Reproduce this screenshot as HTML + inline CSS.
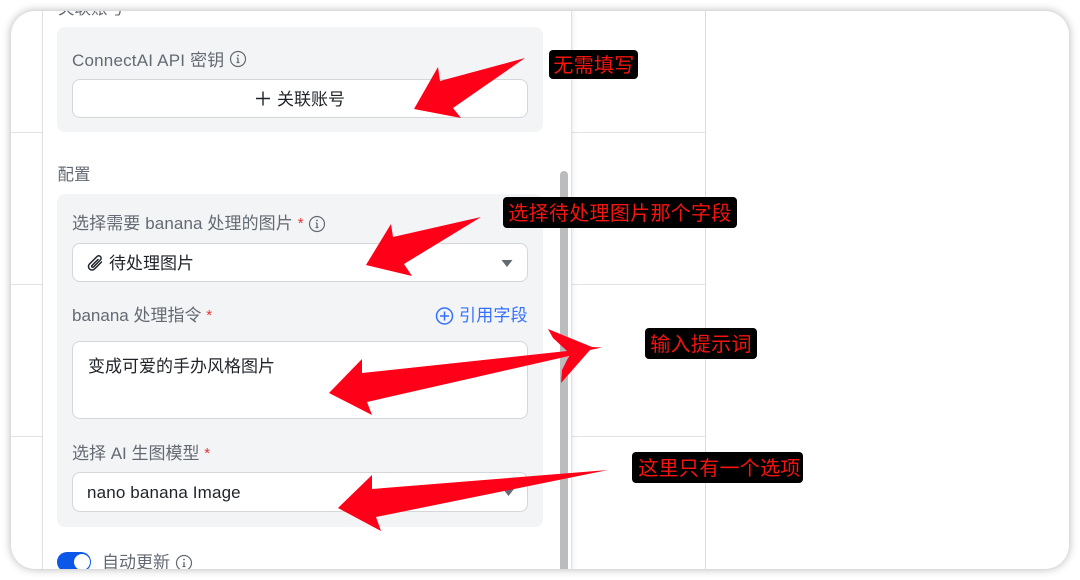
<!DOCTYPE html>
<html lang="zh">
<head>
<meta charset="utf-8">
<style>
html,body{margin:0;padding:0;width:1080px;height:580px;background:#fff;overflow:hidden}
body{font-family:"Liberation Sans","Noto Sans CJK SC",sans-serif;position:relative}
#card{position:absolute;left:11px;top:11px;width:1058px;height:558px;border-radius:24px;background:#fff;overflow:hidden;box-shadow:0 0 9px rgba(0,0,0,.3)}
.abs{position:absolute}
.t{position:absolute;white-space:nowrap;font-size:17px;line-height:22px;z-index:1}
.g{color:#646a73}
.d{color:#1f2329}
.h{position:absolute;height:1px;background:#e2e3e7}
.gray{position:absolute;background:#f3f4f6;border-radius:8px}
.inp{position:absolute;background:#fff;border:1.5px solid #d4d6da;border-radius:8px;box-sizing:border-box}
.r{color:#e8322d;font-size:15px;position:relative;top:-1px}
.lab{position:absolute;background:#000;color:#f5140f;border-radius:4px;font-size:20px;letter-spacing:.3px;line-height:30px;text-align:center;white-space:nowrap;font-family:"Noto Sans CJK SC",sans-serif;font-weight:400;z-index:3}
svg{position:absolute;left:0;top:0}
</style>
</head>
<body>
<div id="card">
  <div class="h" style="left:0;top:121px;width:694px"></div>
  <div class="h" style="left:0;top:273px;width:694px"></div>
  <div class="h" style="left:0;top:425px;width:694px"></div>
  <div class="abs" style="left:694px;top:0;width:1px;height:558px;background:#dcdde1"></div>
  <div class="abs" style="left:31px;top:-2px;width:530px;height:562px;background:#fff;border-left:1px solid #dfe0e4;border-right:1px solid #dfe0e4;box-sizing:border-box;box-shadow:2px 0 5px rgba(0,0,0,.06)"></div>
</div>

<div class="abs" style="left:11px;top:11px;width:1058px;height:558px;border-radius:24px;overflow:hidden">
  <div class="t g" style="left:47px;top:-13px;font-size:16.500px">关联账号</div>
  <div class="abs" style="left:549px;top:160px;width:8px;height:410px;background:#bbbcbe;border-radius:4px"></div>
</div>

<div class="gray" style="left:57px;top:27px;width:486px;height:105px"></div>
<div class="t g" style="left:72px;top:49.500px;letter-spacing:.2px">ConnectAI API 密钥</div>
<div class="inp" style="left:72px;top:79px;width:456px;height:39px"></div>
<div class="t d" style="left:277px;top:88.500px">关联账号</div>

<div class="t g" style="left:57.500px;top:164px;font-size:16.500px">配置</div>
<div class="gray" style="left:57px;top:194px;width:486px;height:333px"></div>

<div class="t g" style="left:72px;top:213px;letter-spacing:.1px">选择需要 banana 处理的图片 <span class="r">*</span></div>
<div class="inp" style="left:72px;top:243px;width:456px;height:39px"></div>
<div class="t d" style="left:109px;top:253px">待处理图片</div>

<div class="t g" style="left:72px;top:305px">banana 处理指令 <span class="r">*</span></div>
<div class="t" style="left:459px;top:305px;color:#3370ff;letter-spacing:.2px">引用字段</div>
<div class="inp" style="left:72px;top:341px;width:456px;height:78px"></div>
<div class="t d" style="left:88px;top:356px">变成可爱的手办风格图片</div>

<div class="t g" style="left:72px;top:443px">选择 AI 生图模型 <span class="r">*</span></div>
<div class="inp" style="left:72px;top:472px;width:456px;height:40px"></div>
<div class="t d" style="left:87px;top:481.500px;letter-spacing:.15px">nano banana Image</div>

<svg width="1080" height="580" viewBox="0 0 1080 580" style="z-index:1">
  <g fill="none" stroke="#646a73" stroke-width="1.200">
    <circle cx="238" cy="59" r="7.500"/>
    <circle cx="317" cy="224" r="7.500"/>
  </g>
  <g stroke="#646a73" stroke-width="1.300" fill="none">
    <path d="M238 58v4.500M236.500 62.500h3M236.800 58h1.200"/>
    <path d="M317 223v4.500M315.500 227.500h3M315.800 223h1.200"/>
  </g>
  <circle cx="238" cy="55.500" r=".9" fill="#646a73"/>
  <circle cx="317" cy="220.500" r=".9" fill="#646a73"/>
  <path d="M263 91.500v14M256 98.500h14" stroke="#1f2329" stroke-width="1.400" fill="none"/>
  <path d="M101.500 262L94.500 269a3.500 3.500 0 0 1-5-5L97 256.500a2.400 2.400 0 0 1 3.400 3.400L93.500 267a1 1 0 0 1-1.500-1.500L98 259.500" fill="none" stroke="#1f2329" stroke-width="1.500" stroke-linecap="round"/>
  <path d="M501.500 260h11l-5.500 7z" fill="#646a73"/>
  <circle cx="444.500" cy="316" r="8" fill="none" stroke="#3370ff" stroke-width="1.500"/>
  <path d="M444.500 311.500v9M440 316h9" stroke="#3370ff" stroke-width="1.500" fill="none"/>
  <path d="M503 489h11l-5.500 7z" fill="#646a73"/>
</svg>

<div class="abs" style="left:11px;top:11px;width:1058px;height:558px;border-radius:24px;overflow:hidden;z-index:1">
  <div class="abs" style="left:46px;top:541px;width:34px;height:20px;border-radius:10px;background:#0b57e8"></div>
  <div class="abs" style="left:63px;top:543px;width:16px;height:16px;border-radius:8px;background:#fff"></div>
  <div class="t g" style="left:91px;top:541px">自动更新</div>
  <svg width="30" height="30" style="left:160px;top:537px">
    <circle cx="13" cy="15" r="7.500" fill="none" stroke="#646a73" stroke-width="1.200"/>
    <path d="M13 14v4.500M11.500 18.500h3" stroke="#646a73" stroke-width="1.300" fill="none"/>
    <circle cx="13" cy="11.500" r=".9" fill="#646a73"/>
  </svg>
</div>

<svg width="1080" height="580" viewBox="0 0 1080 580" style="z-index:2">
  <g fill="#ff0019">
    <polygon points="525,58 440,81 438,67 414,109 461,118 453,108"/>
    <polygon points="481,217 393,237 391,224 366,265 412,276 404,264"/>
    <polygon points="329,393 362,359 362,373 567,351 553,338 548,329 592,347 602,347.500 590,350 561,383 562,370 569,356 367,402 372,415"/>
    <polygon points="608,470 372,489 372,475 338,508 381,531 376,517"/>
  </g>
</svg>

<div class="lab" style="left:549px;top:50px;width:89px;height:29px;line-height:28px;padding-left:1px;box-sizing:border-box">无需填写</div>
<div class="lab" style="left:503px;top:197px;width:234px;height:31px">选择待处理图片那个字段</div>
<div class="lab" style="left:645px;top:328px;width:112px;height:31px">输入提示词</div>
<div class="lab" style="left:632px;top:452px;width:171px;height:31px;padding-left:4px;box-sizing:border-box">这里只有一个选项</div>
</body>
</html>
